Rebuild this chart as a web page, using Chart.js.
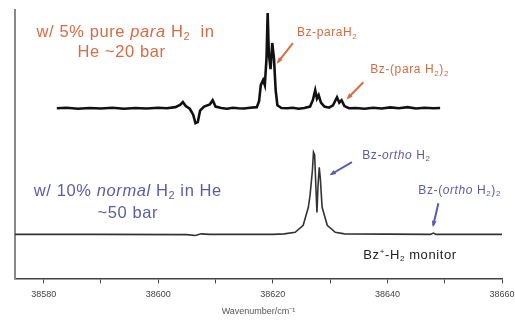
<!DOCTYPE html>
<html>
<head>
<meta charset="utf-8">
<script src="https://cdn.jsdelivr.net/npm/chart.js@4/dist/chart.umd.min.js"></script>
<style>
  html,body{margin:0;padding:0;background:#fff;overflow:hidden;}
  #wrap{width:515px;height:322px;}
</style>
</head>
<body>
<div id="wrap"><canvas id="spec" width="515" height="322"></canvas></div>
<script>
// para-H2 spectrum (5% in He, ~20 bar)
const paraX = [38582.3,38584,38586,38588,38590,38592,38594,38596,38598,38600,38601.5,38603,
  38603.8,38604.3,38604.8,38605.5,38606.1,38606.5,38606.9,38607.3,38608,38609,38609.5,38610,
  38611,38612,38613,38614,38615,38616,38617.2,38617.6,38617.9,38618.3,38618.6,38618.9,38619.1,
  38619.3,38619.6,38619.9,38620.2,38620.5,38620.8,38621.5,38622.5,38623.5,38624.5,38625.5,
  38626.5,38627,38627.4,38627.7,38628,38628.4,38629,38629.8,38630.5,38631.2,38631.6,38632,
  38632.5,38633.3,38634.5,38636,38637.5,38639,38640.5,38642,38643.5,38645,38646.5,38648,38649.2];
const paraY = [63.4,63.6,63.2,63.5,63.3,63.6,63.2,63.5,63.3,63.6,63.4,63.8,
  64.6,65.7,64.2,63.2,61.0,57.8,58.2,62.5,64.0,64.8,66.4,64.0,
  63.5,63.2,63.6,63.4,63.3,63.6,63.8,66,72,73.9,72,82,98.9,
  84,78,87.7,82,70,64.5,63.5,63.4,63.6,63.2,63.5,
  64.0,66.5,70.1,67,68.3,65.5,64.0,63.6,64.5,67.5,65.5,66.4,
  64.2,63.4,63.5,63.2,63.6,63.3,63.7,63.4,63.8,63.3,63.6,63.4,63.5];

// normal-H2 spectrum (10% in He, ~50 bar)
const normX = [38575,38590,38605,38606.5,38607.5,38609,38620,38622,38623.9,38625.3,38626.2,
  38626.5,38626.9,38627.1,38627.3,38627.5,38627.7,38627.9,38628.1,38628.3,38628.6,38629.5,
  38630.9,38632.5,38647.5,38648,38648.5,38660];
const normY = [16.4,16.4,16.3,16.0,16.6,16.4,16.4,16.6,17.2,19.8,26.5,
  31,40,47,46,35,24.6,35,41.4,37,26.5,19.8,
  17.2,16.6,16.4,16.9,16.4,16.4];

const xTicks = [38580,38590,38600,38610,38620,38630,38640,38650,38660];
const xLabeled = [38580,38600,38620,38640,38660];

const ORANGE = "#d66c44";
const BLUE = "#5a5ca8";

// text pieces: t = text, i = italic, s = subscript, p = superscript
const notes = [
  {x:38594.3, y:91.8, align:"center", size:16.5, color:ORANGE,
   parts:[{t:"w/ 5% pure "},{t:"para",i:1},{t:" H"},{t:"2",s:1},{t:"  in"}]},
  {x:38593.6, y:84.3, align:"center", size:16.5, color:ORANGE, parts:[{t:"He ~20 bar"}]},
  {x:38624.2, y:91.4, align:"left", size:12, color:ORANGE, parts:[{t:"Bz-paraH"},{t:"2",s:1}]},
  {x:38637.0, y:77.6, align:"left", size:12, color:ORANGE,
   parts:[{t:"Bz-(para H"},{t:"2",s:1},{t:")"},{t:"2",s:1}]},
  {x:38594.7, y:32.5, align:"center", size:16.5, color:BLUE,
   parts:[{t:"w/ 10% "},{t:"normal",i:1},{t:" H"},{t:"2",s:1},{t:" in He"}]},
  {x:38594.7, y:24.3, align:"center", size:16.5, color:BLUE, parts:[{t:"~50 bar"}]},
  {x:38635.6, y:45.9, align:"left", size:12, color:BLUE,
   parts:[{t:"Bz-"},{t:"ortho",i:1},{t:" H"},{t:"2",s:1}]},
  {x:38645.4, y:32.8, align:"left", size:12, color:BLUE,
   parts:[{t:"Bz-("},{t:"ortho",i:1},{t:" H"},{t:"2",s:1},{t:")"},{t:"2",s:1}]},
  {x:38635.8, y:8.6, align:"left", size:13, color:"#222",
   parts:[{t:"Bz"},{t:"+",p:1},{t:"-H"},{t:"2",s:1},{t:" monitor"}]}
];

const arrows = [
  {x0:38623.5, y0:87.7, x1:38620.9, y1:80.6, color:ORANGE},
  {x0:38635.8, y0:73.1, x1:38633.1, y1:67.2, color:ORANGE},
  {x0:38633.8, y0:43.3, x1:38630.2, y1:38.8, color:BLUE},
  {x0:38648.9, y0:28.0, x1:38648.0, y1:19.8, color:BLUE}
];

const FONT = "'Liberation Sans', Arial, sans-serif";

function partFont(p, size){
  const sz = (p.s || p.p) ? Math.round(size*0.65) : size;
  return (p.i ? "italic " : "") + sz + "px " + FONT;
}

function drawParts(ctx, n, px, py){
  ctx.letterSpacing = "0.6px";
  let w = 0;
  n.parts.forEach(p=>{ ctx.font = partFont(p, n.size); w += ctx.measureText(p.t).width; });
  let x = n.align === "center" ? px - w/2 : px;
  ctx.fillStyle = n.color;
  ctx.textBaseline = "middle";
  ctx.textAlign = "left";
  n.parts.forEach(p=>{
    ctx.font = partFont(p, n.size);
    let dy = 0;
    if(p.s) dy = n.size*0.3;
    if(p.p) dy = -n.size*0.3;
    ctx.fillText(p.t, x, py + dy);
    x += ctx.measureText(p.t).width;
  });
  ctx.letterSpacing = "0px";
}

const notesPlugin = {
  id:"notes",
  afterDatasetsDraw(chart){
    const ctx = chart.ctx, xs = chart.scales.x, ys = chart.scales.y;
    ctx.save();
    arrows.forEach(a=>{
      const x0 = xs.getPixelForValue(a.x0), y0 = ys.getPixelForValue(a.y0);
      const x1 = xs.getPixelForValue(a.x1), y1 = ys.getPixelForValue(a.y1);
      const ang = Math.atan2(y1-y0, x1-x0);
      ctx.strokeStyle = a.color; ctx.fillStyle = a.color;
      ctx.lineWidth = 2;
      ctx.beginPath(); ctx.moveTo(x0,y0); ctx.lineTo(x1,y1); ctx.stroke();
      ctx.beginPath();
      ctx.moveTo(x1 + Math.cos(ang)*2, y1 + Math.sin(ang)*2);
      ctx.lineTo(x1 - Math.cos(ang-0.5)*5, y1 - Math.sin(ang-0.5)*5);
      ctx.lineTo(x1 - Math.cos(ang+0.5)*5, y1 - Math.sin(ang+0.5)*5);
      ctx.closePath(); ctx.fill();
    });
    notes.forEach(n=>drawParts(ctx, n, xs.getPixelForValue(n.x), ys.getPixelForValue(n.y)));
    ctx.restore();
  }
};

new Chart(document.getElementById("spec"),{
  type:"line",
  data:{
    datasets:[
      {data:paraX.map((x,i)=>({x, y:paraY[i]})), borderColor:"#111", borderWidth:2.6,
       pointRadius:0, tension:0},
      {data:normX.map((x,i)=>({x, y:normY[i]})), borderColor:"#333", borderWidth:1.6,
       pointRadius:0, tension:0}
    ]
  },
  options:{
    responsive:false,
    animation:false,
    layout:{padding:{left:15, right:0, top:10, bottom:5}},
    plugins:{legend:{display:false}, tooltip:{enabled:false}},
    scales:{
      x:{
        type:"linear", min:38575, max:38660,
        afterBuildTicks(axis){ axis.ticks = xTicks.map(v=>({value:v})); },
        // let the last label run up to the canvas edge
        afterFit(axis){ axis.paddingRight = 13; axis.paddingLeft = 0; },
        ticks:{
          autoSkip:false, maxRotation:0, padding:6,
          color:"#444", font:{family:FONT, size:9},
          callback:v=>xLabeled.includes(v) ? String(v) : ""
        },
        grid:{display:true, drawOnChartArea:false, drawTicks:true, tickLength:5, color:"#444"},
        border:{display:true, color:"#444", width:1.5},
        title:{display:true, text:"Wavenumber/cm\u207B\u00B9", color:"#555",
               font:{family:FONT, size:9}, padding:{top:0, bottom:0}}
      },
      y:{
        min:0, max:100,
        ticks:{display:false},
        grid:{display:false, drawTicks:false},
        border:{display:true, color:"#888", width:2}
      }
    }
  },
  plugins:[notesPlugin]
});
</script>
</body>
</html>
